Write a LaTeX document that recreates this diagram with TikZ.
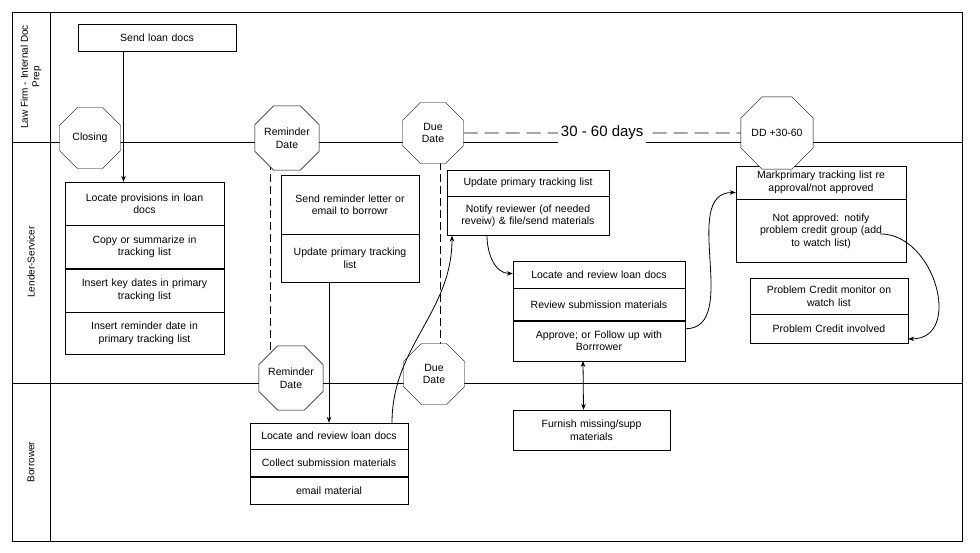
\documentclass[tikz,border=0pt]{standalone}
\usepackage{fontspec}
\setmainfont{Liberation Sans}
\usetikzlibrary{positioning,shapes.geometric,arrows.meta}
\tikzset{
	cell/.style={rectangle, draw, fill=white, align=center, inner sep=2pt,
		font=\fontsize{10.5}{12.5}\selectfont},
	milestone/.style={regular polygon, regular polygon sides=8, draw, fill=white,
		align=center, inner sep=0pt, minimum size=66pt,
		font=\fontsize{10.5}{12.5}\selectfont},
	lane/.style={rotate=90, align=center, font=\fontsize{10}{11.5}\selectfont},
	flow/.style={-{Stealth[length=6pt]}, thick}
}
\begin{document}
\begin{tikzpicture}[x=1pt,y=-1pt]
\useasboundingbox (0,0) rectangle (980,553);
% swimlanes
\draw[thick] (12,12) rectangle (962,541);
\draw[thick] (50,12) -- (50,541);
\draw[thick] (12,142) -- (962,142);
\draw[thick] (12,383) -- (962,383);
\node[lane] (laneLaw) at (31,77) {Law Firm - Internal Doc\\Prep};
\node[lane] (laneLender) at (31,262) {Lender-Servicer};
\node[lane] (laneBorrower) at (31,462) {Borrower};
% dashed markers
\draw[thick, dash pattern=on 8pt off 4pt] (270,150) -- (270,365);
\draw[thick, dash pattern=on 8pt off 4pt] (440,150) -- (440,360);
% law firm
\node[cell, text width=154pt, minimum height=27pt] (SendDocs) at (157,37.5) {Send loan docs};
% lender group 1
\node[cell, text width=155pt, minimum height=43pt] (Locate) at (144.5,203.5) {Locate provisions in loan\\docs};
\node[cell, text width=155pt, minimum height=43pt] (Copy) [below=0pt of Locate] {Copy or summarize in\\tracking list};
\node[cell, text width=155pt, minimum height=43pt] (KeyDates) [below=0pt of Copy] {Insert key dates in primary\\tracking list};
\node[cell, text width=155pt, minimum height=42pt] (RemDate) [below=0pt of KeyDates] {Insert reminder date in\\primary tracking list};
% lender group 2
\node[cell, text width=134pt, minimum height=59pt] (SendRem) at (350,204.5) {Send reminder letter or\\email to borrowr};
\node[cell, text width=134pt, minimum height=48pt] (UpdRem) [below=0pt of SendRem] {Update primary tracking\\list};
% lender group 3
\node[cell, text width=158pt, minimum height=26pt] (UpdDue) at (528,183) {Update primary tracking list};
\node[cell, text width=158pt, minimum height=39pt] (Notify) [below=0pt of UpdDue] {Notify reviewer (of needed\\reveiw) \& file/send materials};
% lender group 4
\node[cell, text width=168pt, minimum height=27pt] (Review) at (599,274.5) {Locate and review loan docs};
\node[cell, text width=168pt, minimum height=32pt] (RevSub) [below=0pt of Review] {Review submission materials};
\node[cell, text width=168pt, minimum height=40pt] (Approve) [below=0pt of RevSub] {Approve; or Follow up with\\Borrrower};
% lender group 5
\node[cell, text width=166pt, minimum height=33pt] (Mark) at (821,182.5) {Markprimary tracking list re\\approval/not approved};
\node[cell, text width=166pt, minimum height=63pt] (NotAppr) [below=0pt of Mark] {Not approved: notify\\problem credit group (add\\to watch list)};
% lender group 6
\node[cell, text width=154pt, minimum height=36pt] (Monitor) at (829,296) {Problem Credit monitor on\\watch list};
\node[cell, text width=154pt, minimum height=29pt] (Involved) [below=0pt of Monitor] {Problem Credit involved};
% borrower
\node[cell, text width=154pt, minimum height=26pt] (BLocate) at (329,436) {Locate and review loan docs};
\node[cell, text width=154pt, minimum height=27pt] (Collect) [below=0pt of BLocate] {Collect submission materials};
\node[cell, text width=154pt, minimum height=27pt] (Email) [below=0pt of Collect] {email material};
\node[cell, text width=153pt, minimum height=40pt] (Furnish) at (591.5,430) {Furnish missing/supp\\materials};
% milestones
\node[milestone] (Closing) at (90,138) {Closing};
\node[milestone] (Reminder) at (287,138) {Reminder\\Date};
\node[milestone] (DueDate) at (433,133) {Due\\Date};
\node[milestone, minimum size=74pt] (DDplus) at (777,133) {DD +30-60};
\node[milestone] (Reminder2) at (291,378) {Reminder\\Date};
\node[milestone] (DueDate2) at (434,374) {Due\\Date};
\draw[thick, dash pattern=on 14pt off 7pt] (DueDate) -- (DDplus)
	node[midway, fill=white, font=\fontsize{15}{18}\selectfont, inner sep=3pt] (span) {30 - 60 days};
% flows
\draw[flow] (SendDocs.south -| Locate.north) ++(-21,0) coordinate (sd) -- (sd |- Locate.north);
\draw[flow] (UpdRem.south) ++(-21,0) coordinate (ur) -- (ur |- BLocate.north);
\draw[flow] (BLocate.north) ++(63,0) coordinate (bl) to[out=90, in=-90] ([xshift=-76pt]Notify.south);
\draw[flow] ([xshift=-41pt]Notify.south) to[out=-90, in=180] ([yshift=1pt]Review.west);
\draw[flow] ([yshift=12pt]Approve.east) to[out=0, in=180] ([yshift=-10pt]Mark.west);
\draw[flow] ([yshift=-3pt]NotAppr.east) ++(-26,0) coordinate (na) to[out=0, in=0, looseness=1.3] ([yshift=-10pt]Involved.east);
\draw[{Stealth[length=6pt]}-{Stealth[length=6pt]}, thick] ([xshift=-16pt]Approve.south) -- ([xshift=-8pt]Furnish.north);
\end{tikzpicture}
\end{document}
